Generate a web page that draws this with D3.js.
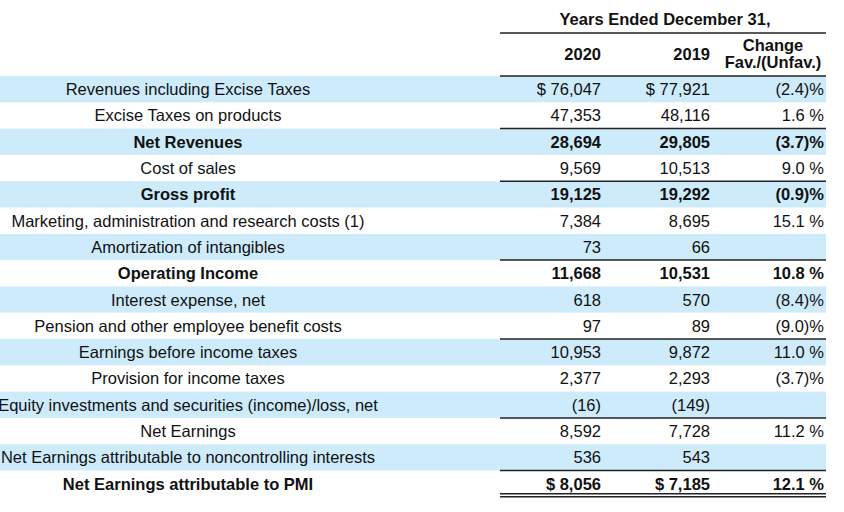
<!DOCTYPE html>
<html><head><meta charset="utf-8">
<script src="https://cdn.jsdelivr.net/npm/d3@7"></script>
<style>body{margin:0;background:#fff}text{font-family:"Liberation Sans",Arial,sans-serif;font-size:16.5px;fill:#111}</style>
</head><body><svg id="c" width="844" height="512"></svg>
<script>
const labels=["Revenues including Excise Taxes","Excise Taxes on products","Net Revenues","Cost of sales","Gross profit","Marketing, administration and research costs (1)","Amortization of intangibles","Operating Income","Interest expense, net","Pension and other employee benefit costs","Earnings before income taxes","Provision for income taxes","Equity investments and securities (income)/loss, net","Net Earnings","Net Earnings attributable to noncontrolling interests","Net Earnings attributable to PMI"];
const y2020=["$ 76,047","47,353","28,694","9,569","19,125","7,384","73","11,668","618","97","10,953","2,377","(16)","8,592","536","$ 8,056"];
const y2019=["$ 77,921","48,116","29,805","10,513","19,292","8,695","66","10,531","570","89","9,872","2,293","(149)","7,728","543","$ 7,185"];
const change=["(2.4)%","1.6 %","(3.7)%","9.0 %","(0.9)%","15.1 %","","10.8 %","(8.4)%","(9.0)%","11.0 %","(3.7)%","","11.2 %","","12.1 %"];
const boldRows=[2,4,7,15];
const ruleAbove=[2,4,7,10,13,15];
const svg=d3.select("#c");
const y=d3.scaleBand().domain(d3.range(labels.length)).range([76,76+26.3*16]);
const rows=svg.selectAll("g.r").data(labels).join("g").attr("transform",(d,i)=>`translate(0,${y(i)})`);
rows.filter((d,i)=>i%2===0).append("rect").attr("x",0).attr("y",0).attr("width",826).attr("height",y.bandwidth()).attr("fill","#cdebfb");
const ty=y.bandwidth()/2+6;
const fw=(i)=>boldRows.includes(i)?"bold":"normal";
rows.append("text").attr("x",188).attr("y",ty).attr("text-anchor","middle").attr("font-weight",(d,i)=>fw(i)).text(d=>d);
rows.append("text").attr("x",601).attr("y",ty).attr("text-anchor","end").attr("font-weight",(d,i)=>fw(i)).text((d,i)=>y2020[i]);
rows.append("text").attr("x",710).attr("y",ty).attr("text-anchor","end").attr("font-weight",(d,i)=>fw(i)).text((d,i)=>y2019[i]);
rows.append("text").attr("x",824).attr("y",ty).attr("text-anchor","end").attr("font-weight",(d,i)=>fw(i)).attr("xml:space","preserve").text((d,i)=>change[i]);
const line=(yy)=>svg.append("line").attr("x1",500).attr("x2",826).attr("y1",yy).attr("y2",yy).attr("stroke","#222").attr("stroke-width",1.5);
ruleAbove.forEach(i=>line(y(i)));
line(33);line(76);
const end=y(15)+y.bandwidth();
line(end-3);line(end);
svg.append("text").attr("x",665).attr("y",25).attr("text-anchor","middle").attr("font-weight","bold").text("Years Ended December 31,");
svg.append("text").attr("x",601).attr("y",60).attr("text-anchor","end").attr("font-weight","bold").text("2020");
svg.append("text").attr("x",710).attr("y",60).attr("text-anchor","end").attr("font-weight","bold").text("2019");
svg.append("text").attr("x",773).attr("y",51).attr("text-anchor","middle").attr("font-weight","bold").text("Change");
svg.append("text").attr("x",773).attr("y",68).attr("text-anchor","middle").attr("font-weight","bold").text("Fav./(Unfav.)");
</script></body></html>
